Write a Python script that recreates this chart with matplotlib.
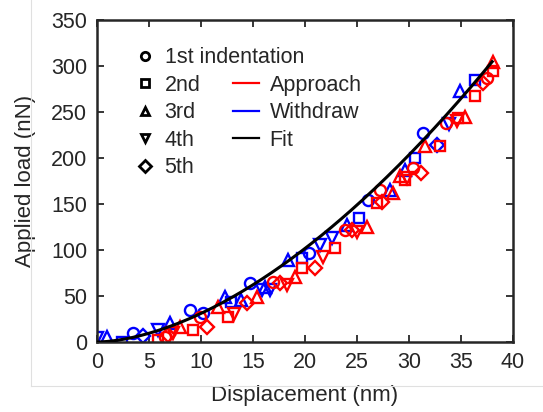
import matplotlib
matplotlib.use("Agg")
import matplotlib.pyplot as plt
from matplotlib.lines import Line2D
import numpy as np

plt.rcParams['font.family'] = ['Liberation Sans', 'DejaVu Sans']

# ---- data (displacement nm, load nN) ----
app_circle_x = [6.5, 9.9, 16.9, 23.8, 27.2, 30.4, 33.6, 37.5]
app_circle_y = [5, 27, 65, 122, 165, 189, 238, 287]
app_square_x = [5.9, 9.2, 12.6, 19.7, 22.9, 26.9, 29.6, 33.0, 34.7, 36.3, 38.1]
app_square_y = [2, 13, 27, 80, 102, 151, 176, 213, 243, 267, 295]
app_tri_x = [8.0, 11.6, 15.4, 19.0, 26.0, 28.5, 29.1, 31.5, 35.4, 38.1]
app_tri_y = [16, 38, 49, 71, 125, 162, 180, 213, 245, 304]
app_dtri_x = [7.3, 13.2, 18.3, 21.7, 25.0, 29.8, 34.6]
app_dtri_y = [10, 30, 62, 92, 120, 178, 240]
app_diam_x = [6.8, 10.6, 14.4, 17.6, 21.0, 24.5, 27.4, 31.2, 37.1]
app_diam_y = [8, 16, 42, 64, 80, 122, 152, 184, 281]

wd_circle_x = [3.5, 8.9, 10.2, 14.7, 20.4, 26.1, 31.3]
wd_circle_y = [10, 35, 31, 64, 97, 154, 227]
wd_square_x = [2.4, 12.9, 19.7, 25.2, 30.6, 36.3]
wd_square_y = [0, 44, 91, 135, 200, 285]
wd_tri_x = [1.0, 7.0, 12.3, 13.8, 16.2, 18.4, 24.0, 28.2, 29.6, 34.9]
wd_tri_y = [5, 21, 49, 46, 60, 89, 127, 165, 187, 273]
wd_dtri_x = [0.0, 5.9, 15.9, 16.6, 21.4, 22.6, 33.8]
wd_dtri_y = [4, 13, 57, 57, 105, 113, 237]
wd_diam_x = [4.4, 32.7]
wd_diam_y = [6, 214]

# power-law fit F = a * d^p
fit_a = 0.606
fit_p = 1.71
fit_xmax = 38.0

marker_labels = ['1st indentation', '2nd', '3rd', '4th', '5th']
markers = ['o', 's', '^', 'v', 'D']

fig = plt.figure(figsize=(5.43, 4.12), dpi=100)
# faint frame lines of the original figure
fig.add_artist(Line2D([31/543, 31/543], [1, 1-386/412], color='#e0e0e0', lw=0.8))
fig.add_artist(Line2D([31/543, 1], [1-386/412, 1-386/412], color='#e0e0e0', lw=0.8))

ax = fig.add_axes([97/543, 1-342/412, (513-97)/543, (342-20)/412])

red = '#ff0000'
blue = '#0000ff'
app = [(app_circle_x, app_circle_y), (app_square_x, app_square_y), (app_tri_x, app_tri_y),
       (app_dtri_x, app_dtri_y), (app_diam_x, app_diam_y)]
wd = [(wd_circle_x, wd_circle_y), (wd_square_x, wd_square_y), (wd_tri_x, wd_tri_y),
      (wd_dtri_x, wd_dtri_y), (wd_diam_x, wd_diam_y)]

sizes = {'o': 8, 's': 7.5, 'D': 7, '^': 8.5, 'v': 8.5}
for m, (xs, ys) in zip(markers, wd):
    ax.plot(xs, ys, linestyle='none', marker=m, ms=sizes[m], mfc='none', mec=blue, mew=1.7)
for m, (xs, ys) in zip(markers, app):
    ax.plot(xs, ys, linestyle='none', marker=m, ms=sizes[m], mfc='none', mec=red, mew=1.7)

xf = np.linspace(0, fit_xmax, 200)
ax.plot(xf, fit_a * xf ** fit_p, color='black', lw=2.2, zorder=5)

ax.set_xlim(0, 40)
ax.set_ylim(0, 350)
ax.set_xticks(np.arange(0, 41, 5))
ax.set_yticks(np.arange(0, 351, 50))
txtc = '#262626'
ax.tick_params(direction='in', top=True, right=True, length=5, width=1.3,
               labelsize=15.5, colors=txtc, pad=7)
for s in ax.spines.values():
    s.set_linewidth(1.8)
    s.set_color('#262626')
ax.set_xlabel('Displacement (nm)', fontsize=16, color=txtc, labelpad=9)
ax.set_ylabel('Applied load (nN)', fontsize=16, color=txtc, labelpad=11)

# legend 1: markers
h1 = [Line2D([], [], linestyle='none', marker=m, ms=6, mfc='none', mec='black', mew=2)
      for m in markers]
leg1 = ax.legend(h1, marker_labels, loc='upper left', bbox_to_anchor=(0.095, 0.915),
                 frameon=False, fontsize=15.5, handlelength=0.8, handletextpad=0.5,
                 labelspacing=0.3, borderaxespad=0, borderpad=0, labelcolor=txtc)
ax.add_artist(leg1)
h2 = [Line2D([], [], color=red, lw=1.6), Line2D([], [], color=blue, lw=1.6),
      Line2D([], [], color='black', lw=1.6)]
ax.legend(h2, ['Approach', 'Withdraw', 'Fit'], loc='upper left', bbox_to_anchor=(0.327, 0.83),
          frameon=False, fontsize=15.5, handlelength=1.2, handletextpad=0.5,
          labelspacing=0.3, borderaxespad=0, borderpad=0, labelcolor=txtc)

fig.savefig('out.png', dpi=100)
